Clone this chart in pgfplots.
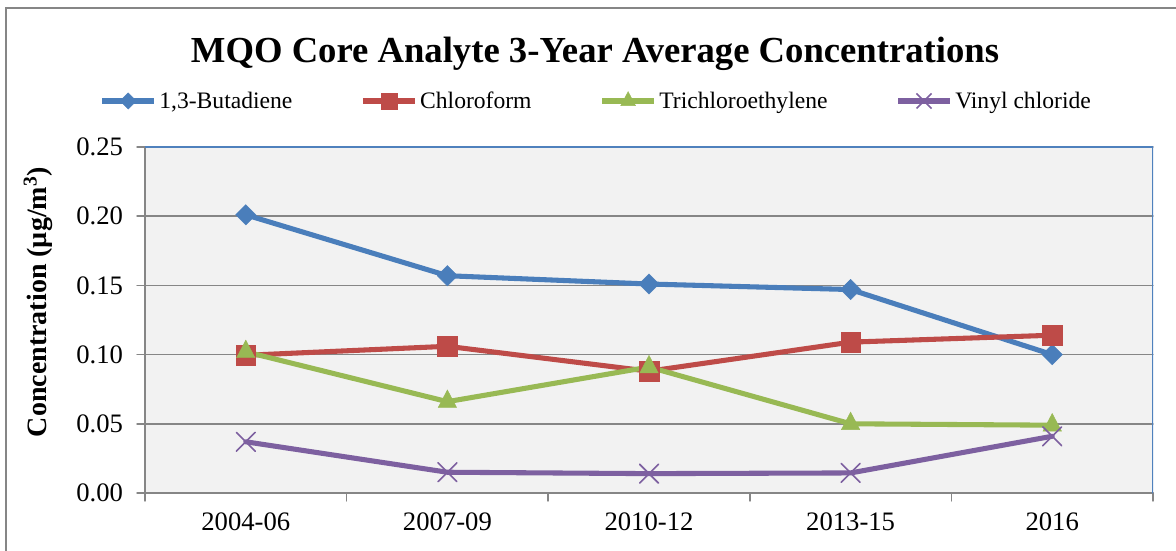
\documentclass[border=0pt]{standalone}
\usepackage{fontspec}
\setmainfont{Liberation Serif}
\usepackage{pgfplots}
\pgfplotsset{compat=1.18}
\definecolor{cblue}{HTML}{4A7EBB}
\definecolor{cred}{HTML}{BE4B48}
\definecolor{cgreen}{HTML}{98B954}
\definecolor{cpurple}{HTML}{7D60A0}
\definecolor{framegray}{HTML}{868686}
\definecolor{bordblue}{HTML}{4F81BD}
\definecolor{plotbg}{HTML}{F2F2F2}
\begin{document}
\begin{tikzpicture}[x=0.75pt,y=0.75pt]
\path[use as bounding box] (0,0) rectangle (1176,550);
\draw[framegray, line width=1.6pt] (6,-10) -- (6,542) -- (1190,542);
\node[font=\fontsize{27.5}{30}\selectfont\bfseries, anchor=base] at (595,487) {MQO Core Analyte 3-Year Average Concentrations};
\begin{axis}[
  at={(108.75pt,42.75pt)}, anchor=south west,
  width=756pt, height=259.5pt, scale only axis,
  xmin=-0.5, xmax=4.5, ymin=0, ymax=0.25,
  /pgf/number format/assume math mode=true,
  xtick={-0.5,0.5,1.5,2.5,3.5,4.5},
  x tick label as interval,
  xticklabels={2004-06,2007-09,2010-12,2013-15,2016},
  x tick label style={yshift=-5pt},
  ytick={0,0.05,0.1,0.15,0.2,0.25},
  yticklabel={\pgfmathprintnumber[fixed,fixed zerofill,precision=2,assume math mode=true]{\tick}},
  y tick label style={xshift=-7pt},
  tick label style={font=\fontsize{20}{24}\selectfont},
  ymajorgrids,
  grid style={framegray, line width=1.1pt},
  axis x line*=bottom, axis y line*=left,
  axis line style={-, framegray, line width=1.1pt},
  tick style={framegray, line width=1.1pt},
  tick align=outside, major tick length=6pt,
  axis background/.style={fill=plotbg},
  ylabel={Concentration (µg/m\textsuperscript{3})},
  every axis y label/.style={at={(rel axis cs:-0.106,0.552)}, rotate=90, anchor=center, font=\fontsize{21}{24}\selectfont\bfseries},
  legend columns=4,
  legend cell align=left,
  legend style={at={(0.448,1.133)}, anchor=center, draw=none, fill=none,
    font=\fontsize{17.7}{20}\selectfont,
    /tikz/every even column/.append style={column sep=49pt}},
  legend image code/.code={\draw[mark repeat=2,mark phase=2, every mark/.append style={scale=0.8}] plot coordinates {(0pt,0pt) (19.5pt,0pt) (39pt,0pt)};},
  line join=round, line cap=round,
]
\addplot[cblue, line width=3.8pt, mark=square*, mark size=5.4pt, mark options={rotate=45, line width=0.3pt, line join=miter}]
  coordinates {(0,0.201) (1,0.157) (2,0.151) (3,0.147) (4,0.100)};
\addlegendentry{1,3-Butadiene}
\addplot[cred, line width=3.8pt, mark=square*, mark size=7.3pt, mark options={line width=0.3pt, line join=miter}]
  coordinates {(0,0.0995) (1,0.106) (2,0.088) (3,0.109) (4,0.114)};
\addlegendentry{Chloroform}
\addplot[cgreen, line width=3.8pt, mark=triangle*, mark size=8pt, mark options={yscale=1.1, line width=0.3pt, line join=miter}]
  coordinates {(0,0.102) (1,0.066) (2,0.091) (3,0.050) (4,0.049)};
\addlegendentry{Trichloroethylene}
\addplot[cpurple, line width=3.8pt, mark=x, mark size=10pt, mark options={line width=1.2pt}]
  coordinates {(0,0.037) (1,0.015) (2,0.014) (3,0.0145) (4,0.041)};
\addlegendentry{Vinyl chloride}
\draw[bordblue, line width=0.9pt] (rel axis cs:0,1) -- (rel axis cs:1,1) -- (rel axis cs:1,0);
\end{axis}
\end{tikzpicture}
\end{document}
